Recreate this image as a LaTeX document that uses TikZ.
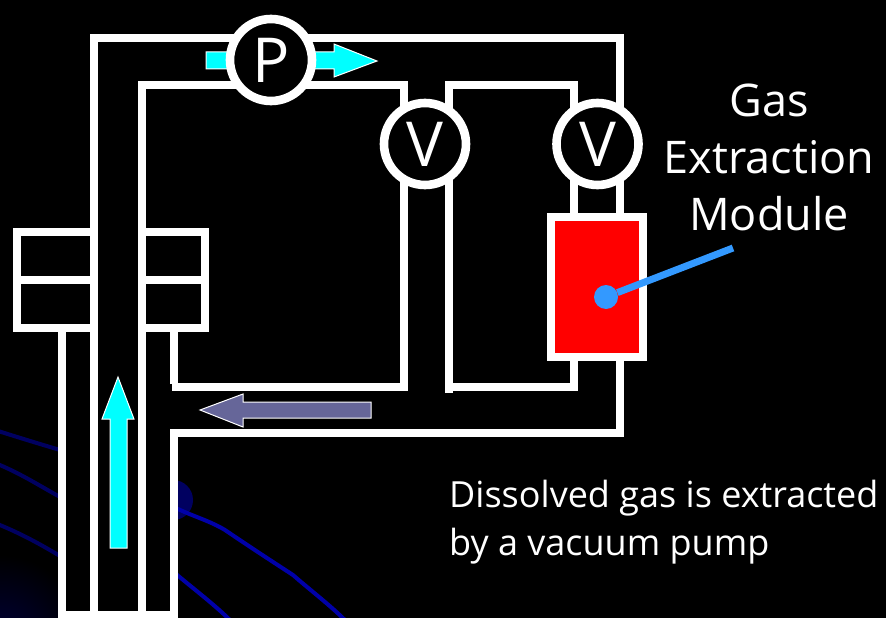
\documentclass[tikz,border=0pt]{standalone}
\usepackage{fontspec}
\setmainfont{Open Sans}
\usepackage{tikz}

\definecolor{swirlblue}{HTML}{0000A8}
\definecolor{swirldark}{HTML}{000060}
\definecolor{swirlglow}{HTML}{000038}
\definecolor{flowcyan}{HTML}{00FFFF}
\definecolor{flowpurple}{HTML}{666699}
\definecolor{pointerblue}{HTML}{3399FF}

\begin{document}
\begin{tikzpicture}[x=1pt,y=-1pt,line join=miter]
  \tikzstyle{pipe}=[draw=white,line width=8.6pt]
  \tikzstyle{valve}=[circle,draw=white,line width=8.6pt,fill=black,text=white,
                     minimum size=82pt,inner sep=0pt,font=\fontsize{62}{62}\selectfont]
  \tikzstyle{flow}=[draw=white,line width=1pt]
  \tikzstyle{swirl}=[line width=4pt,line cap=round]
  \tikzstyle{label}=[text=white,align=center,inner sep=0pt]

  \useasboundingbox (0,0) rectangle (886,618);
  \fill[black] (0,0) rectangle (886,618);

  \shade[inner color=swirlglow,outer color=black] (0,640) circle (85);
  \draw[swirl,swirldark] (-5,430) .. controls (20,438) and (40,444) .. (60,450);
  \draw[swirl,swirldark] (-5,463) .. controls (20,473) and (40,486) .. (60,497);
  \draw[swirl,swirldark] (-5,523) .. controls (20,533) and (40,544) .. (60,556);
  \fill[swirldark] (173,500) circle (20);
  \draw[swirl,swirlblue] (178,509) .. controls (195,517) and (210,521) .. (225,530)
                         .. controls (250,547) and (270,560) .. (293,575)
                         .. controls (310,590) and (330,605) .. (347,622);
  \draw[swirl,swirlblue] (176,574) .. controls (195,590) and (215,605) .. (232,622);
  \fill[black] (58,330) rectangle (178,618);

  \fill[red] (551,217) rectangle (643,357);

  \draw[pipe] (94,622) -- (94,38) -- (620,38) -- (620,217);
  \draw[pipe] (142,622) -- (142,85) -- (404,85) -- (404,387) -- (172,387);
  \draw[pipe] (449,393) -- (449,85) -- (574,85) -- (574,217);
  \draw[pipe] (574,357) -- (574,387) -- (449,387);
  \draw[pipe] (620,357) -- (620,433) -- (174,433) -- (174,622);
  \draw[pipe] (174,328) -- (174,384);
  \draw[pipe] (58,615) -- (178,615);
  \draw[pipe] (62,328) -- (62,622);
  \draw[pipe] (17,232) rectangle (94,328);
  \draw[pipe] (17,280) -- (94,280);
  \draw[pipe] (142,232) rectangle (205,328);
  \draw[pipe] (142,280) -- (205,280);
  \draw[pipe] (551,217) rectangle (643,357);

  \draw[flow,fill=flowcyan] (206,52) -- (334,52) -- (334,44) -- (377,61)
        -- (334,77) -- (334,69) -- (206,69) -- cycle;
  \draw[flow,fill=flowcyan] (110,548) -- (110,419) -- (102,419) -- (118,377)
        -- (134,419) -- (127,419) -- (127,548) -- cycle;
  \draw[flow,fill=flowpurple] (371,402) -- (243,402) -- (243,394) -- (200,410)
        -- (243,427) -- (243,418) -- (371,418) -- cycle;

  \node[valve] (pump) at (271,60) {P};
  \node[valve] (leftvalve) at (425,144) {V};
  \node[valve] (rightvalve) at (597.5,144) {V};

  \node[circle,fill=pointerblue,minimum size=24pt,inner sep=0pt] (sensor) at (606,297) {};
  \coordinate (pointerend) at (733,248);
  \draw[pointerblue,line width=7pt] (sensor) -- (pointerend);

  \node[label,font=\fontsize{45}{57}\selectfont] (module) at (769,157)
       {Gas\\Extraction\\Module};
  \node[label,font=\fontsize{36}{48}\selectfont,align=left,anchor=west] (caption) at (449,522)
       {Dissolved gas is extracted\\by a vacuum pump};
\end{tikzpicture}
\end{document}
